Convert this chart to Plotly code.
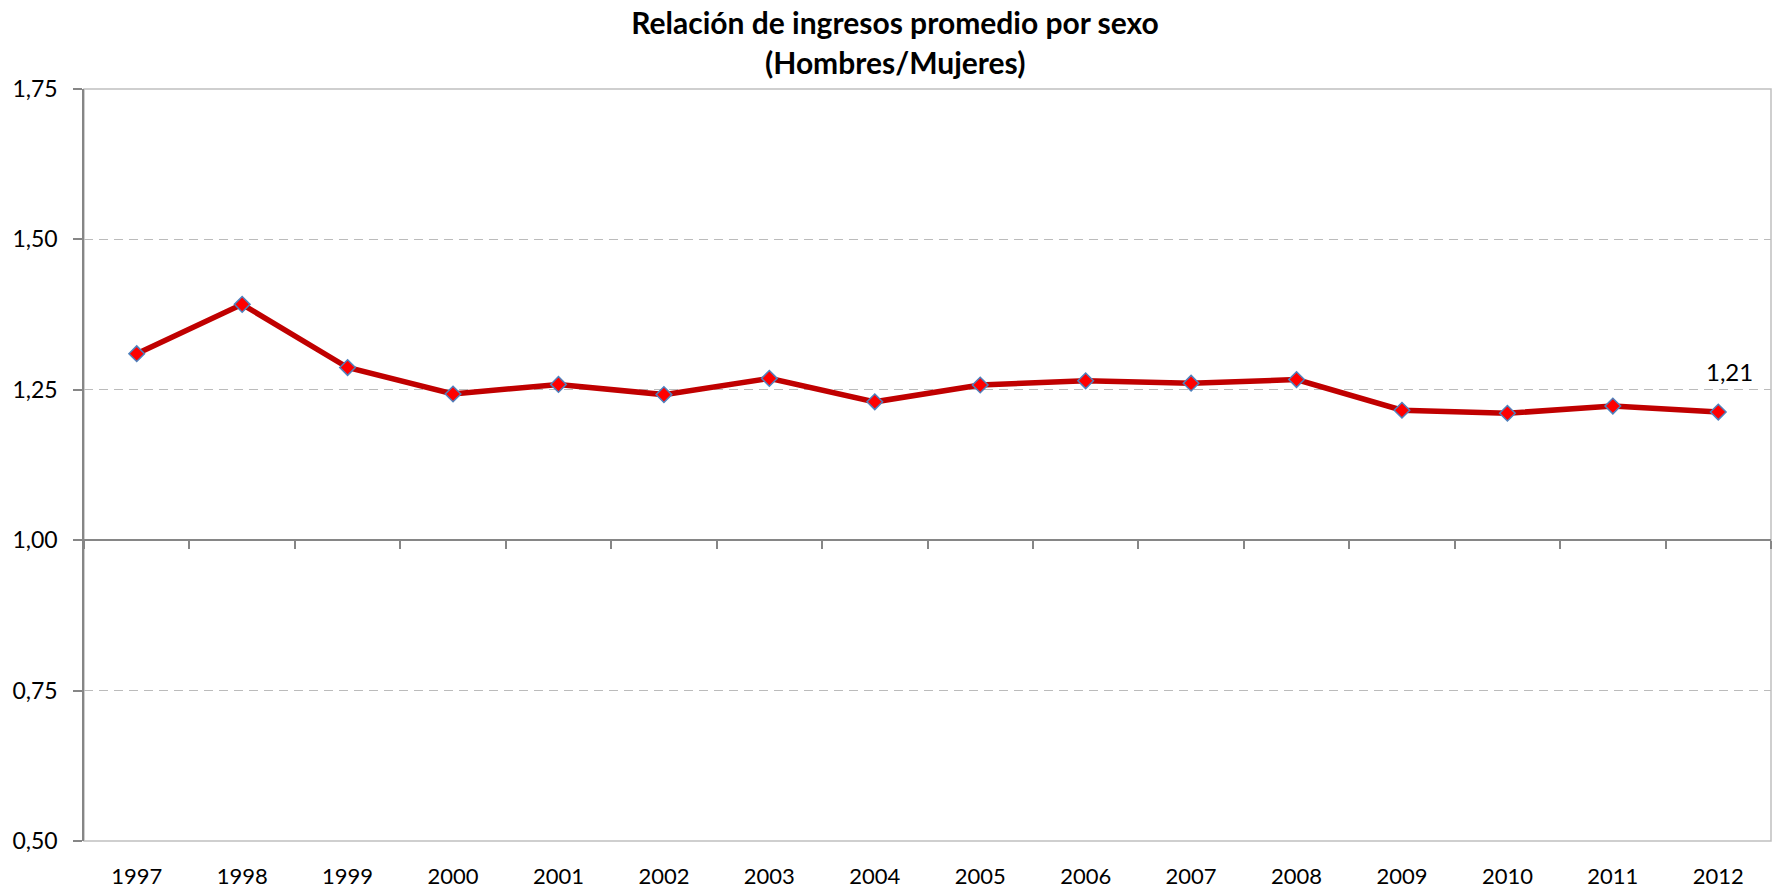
import plotly.graph_objects as go

years = ["1997", "1998", "1999", "2000", "2001", "2002", "2003", "2004",
         "2005", "2006", "2007", "2008", "2009", "2010", "2011", "2012"]
ratio = [1.310, 1.392, 1.287, 1.243, 1.259, 1.242, 1.269, 1.230,
         1.258, 1.265, 1.261, 1.267, 1.216, 1.211, 1.223, 1.213]
y_ticks = [0.50, 0.75, 1.00, 1.25, 1.50, 1.75]

title_line1 = "Relación de ingresos promedio por sexo"
title_line2 = "(Hombres/Mujeres)"

FONT = "Lato"
W, H = 1777, 888
L, R, T, B = 84, 5.5, 88.5, 46.7
TITLE_X = 895

fig = go.Figure()

# invisible helper trace so the crossing axis at 1,00 gets drawn
fig.add_trace(go.Scatter(x=years, y=ratio, xaxis="x2", yaxis="y", mode="lines",
                         line=dict(width=0, color="rgba(0,0,0,0)"),
                         hoverinfo="skip", showlegend=False))

fig.add_trace(go.Scatter(
    x=years, y=ratio, mode="lines+markers",
    line=dict(color="#C00000", width=5.5),
    marker=dict(symbol="diamond", size=12, color="#FF0000",
                line=dict(color="#4F81BD", width=1.5)),
    showlegend=False))

fig.update_layout(
    template="none",
    width=W, height=H,
    margin=dict(l=L, r=R, t=T, b=B, pad=0),
    paper_bgcolor="white", plot_bgcolor="white",
    separators=",.",
    showlegend=False,
    font=dict(family=FONT, size=22, color="black"),
    title=dict(text="<b>" + title_line1 + "</b>", x=TITLE_X / W, xref="container",
               xanchor="center", y=1 - 13 / H, yref="container", yanchor="top",
               font=dict(family=FONT, size=30, color="black")),
    xaxis=dict(type="category", categoryorder="array", categoryarray=years,
               range=[-0.5, len(years) - 0.5], showgrid=False, zeroline=False,
               showline=False, ticks="", tickfont=dict(family=FONT, size=22),
               ticklabelstandoff=20, automargin=False),
    xaxis2=dict(type="category", categoryorder="array", categoryarray=years,
                range=[-0.5, len(years) - 0.5], overlaying="x", anchor="free",
                position=0.4, side="bottom", showgrid=False, zeroline=False,
                showline=True, linecolor="#868686", linewidth=1.5,
                ticks="outside", tickson="boundaries", ticklen=8,
                tickcolor="#868686", tickwidth=1.5, showticklabels=False,
                automargin=False),
    yaxis=dict(range=[0.5, 1.75], tickvals=y_ticks, tickformat=".2f",
               showgrid=True, gridcolor="#BBBBBB", gridwidth=1.3,
               griddash="9px,6px", zeroline=False,
               showline=True, linecolor="#868686", linewidth=1.5,
               ticks="outside", ticklen=9, tickcolor="#868686", tickwidth=1.5,
               tickfont=dict(family=FONT, size=23), ticklabelstandoff=11,
               automargin=False),
    shapes=[dict(type="rect", xref="paper", yref="paper", x0=0, x1=1, y0=0, y1=1,
                 line=dict(color="#C0C0C0", width=1.5), layer="below")],
)

# second title line
fig.add_annotation(text="<b>" + title_line2 + "</b>", xref="paper", yref="paper",
                   x=(TITLE_X - L) / (W - L - R), y=1, yshift=(T - 61),
                   xanchor="center", yanchor="middle", showarrow=False,
                   font=dict(family=FONT, size=30, color="black"))

# data label for last point (category index of last year)
last = len(years) - 1
fig.add_annotation(x=last, y=ratio[last], xref="x", yref="y",
                   text=f"{ratio[last]:.2f}".replace(".", ","),
                   showarrow=False, xshift=11, yshift=41,
                   font=dict(family=FONT, size=24, color="black"))

fig.write_html("out.html", post_script="document.body.style.margin='0';",
               config={"displayModeBar": False})
